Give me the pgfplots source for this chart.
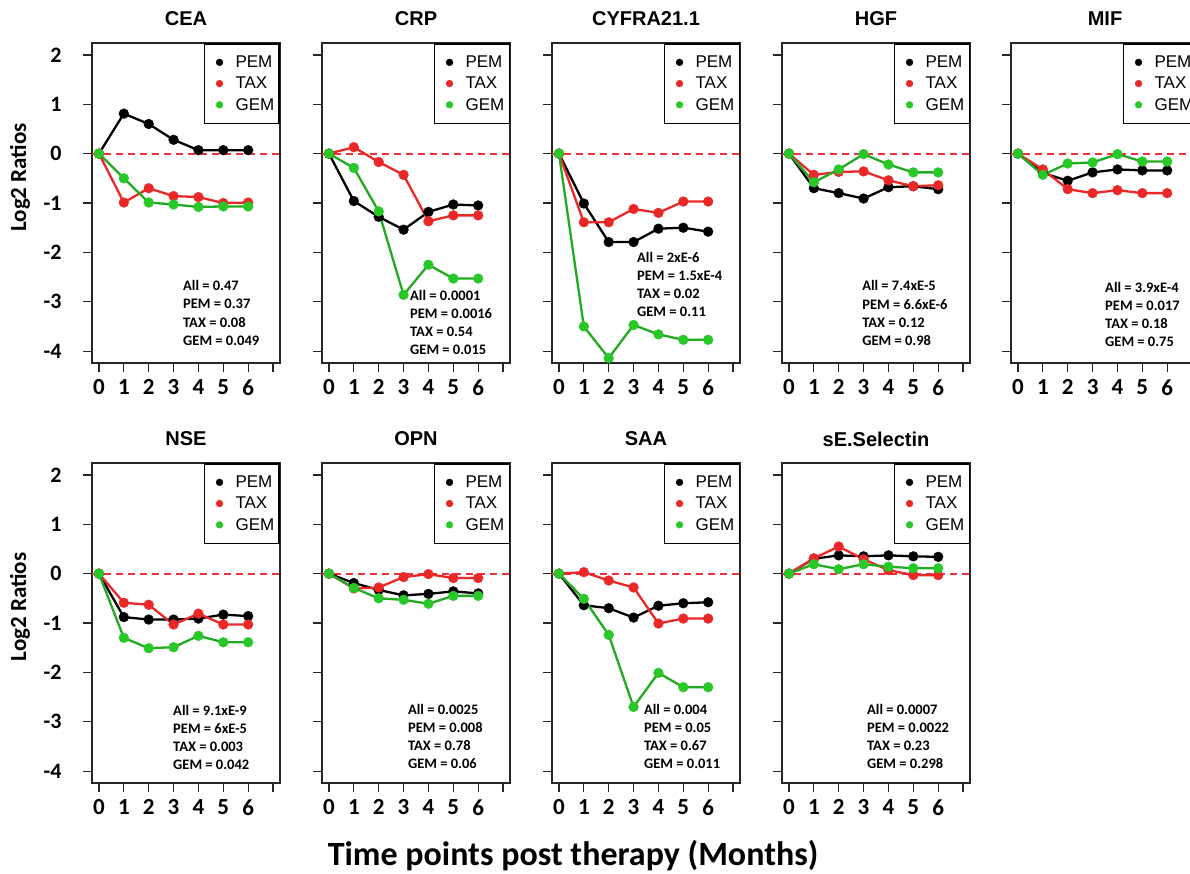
\documentclass[border=0pt]{standalone}
\usepackage{fontspec}
\setmainfont{Carlito}
\newfontfamily\helv{Liberation Sans}
\usepackage{pgfplots}
\pgfplotsset{compat=1.18}
\definecolor{cR}{RGB}{235,40,40}
\definecolor{cG}{RGB}{40,200,40}
\definecolor{cZ}{RGB}{238,50,60}
\tikzset{st/.style={anchor=west, inner sep=0pt, font=\bfseries\fontsize{14.5}{14.5}\selectfont}}
\pgfplotsset{
 panel/.style={
  scale only axis, width=188pt, height=320pt,
  xmin=-0.28, xmax=7.28, ymin=-4.24, ymax=2.24,
  xtick={0,1,2,3,4,5,6,7}, xticklabels={0,1,2,3,4,5,6,{}},
  ytick={-4,-3,-2,-1,0,1,2}, yticklabels={},
  xtick pos=bottom, ytick pos=left,
  tick align=outside, major tick length=9pt,
  axis line style={line width=1.5pt, black!85},
  every tick/.style={line width=1.3pt, black!85},
  ticklabel style={font=\bfseries\fontsize{22}{22}\selectfont},
  xticklabel style={yshift=-4pt, font=\bfseries\fontsize{23}{23}\selectfont},
  yticklabel style={xshift=-18pt},
  title style={font=\helv\bfseries\fontsize{20}{20}\selectfont, at={(0.5,1)}, anchor=center, yshift=18pt},
  legend style={at={(1,1)}, anchor=north east, draw=black, line width=1.5pt,
    font=\helv\fontsize{17}{17}\selectfont, inner xsep=5pt, inner ysep=12pt, row sep=8pt, column sep=0pt,
    nodes={inner sep=0pt}},
  legend cell align=left,
  legend image code/.code={\path[draw=none, fill=none] (-10pt,-5pt) rectangle (16pt,5pt);
     \draw[mark repeat=1,mark phase=1,#1, mark size=3.4pt] plot coordinates {(0pt,0pt)};},
  clip=false,
 },
 pem/.style={black, line width=2.3pt, mark=*, mark size=4.9pt, mark options={line width=0.4pt}},
 tax/.style={cR, line width=2.3pt, mark=*, mark size=4.9pt, mark options={line width=0.4pt}},
 gem/.style={cG!85!black, line width=2.3pt, mark=*, mark size=4.9pt, mark options={line width=0.4pt, fill=cG, draw=cG}},
 firstcol/.style={yticklabels={-4,-3,-2,-1,0,1,2},
   ylabel={Log2 Ratios},
   ylabel style={at={(axis description cs:-0.383,#1)}, rotate=0, anchor=center, font=\bfseries\fontsize{23}{23}\selectfont}},
}
\newcommand{\stats}[6]{%
 \node[st] at (axis description cs:#1,#2) {All = #3};
 \node[st, yshift=-18.3pt] at (axis description cs:#1,#2) {PEM = #4};
 \node[st, yshift=-36.6pt] at (axis description cs:#1,#2) {TAX = #5};
 \node[st, yshift=-54.9pt] at (axis description cs:#1,#2) {GEM = #6};
}
\newcommand{\zeroline}{\addplot[draw=cZ, solid, dash pattern=on 7pt off 5pt, line width=1.8pt, mark=none, forget plot] coordinates {(-0.28,0) (7.28,0)};}
\newcommand{\leg}{\legend{PEM,TAX,GEM}}
\begin{document}
\begin{tikzpicture}
\path[use as bounding box, clip] (0,0) rectangle (1190pt,-873pt);
\fill[white] (0,0) rectangle (1190pt,-873pt);
% ---------- Row 1
\begin{axis}[panel, firstcol=0.58, at={(92pt,-43pt)}, anchor=north west, title={CEA}]
\zeroline
\addplot[pem] coordinates {(0,0) (1,0.81) (2,0.60) (3,0.28) (4,0.07) (5,0.07) (6,0.07)};
\addplot[tax] coordinates {(0,0) (1,-0.99) (2,-0.70) (3,-0.86) (4,-0.88) (5,-1.00) (6,-0.99)};
\addplot[gem] coordinates {(0,0) (1,-0.50) (2,-0.99) (3,-1.03) (4,-1.08) (5,-1.07) (6,-1.07)};
\leg
\stats{0.484}{0.241}{0.47}{0.37}{0.08}{0.049}
\end{axis}
\begin{axis}[panel, at={(322pt,-43pt)}, anchor=north west, title={CRP}]
\zeroline
\addplot[pem] coordinates {(0,0) (1,-0.96) (2,-1.28) (3,-1.54) (4,-1.18) (5,-1.03) (6,-1.05)};
\addplot[tax] coordinates {(0,0) (1,0.13) (2,-0.17) (3,-0.43) (4,-1.37) (5,-1.25) (6,-1.25)};
\addplot[gem] coordinates {(0,0) (1,-0.29) (2,-1.17) (3,-2.86) (4,-2.25) (5,-2.53) (6,-2.53)};
\leg
\stats{0.468}{0.2125}{0.0001}{0.0016}{0.54}{0.015}
\end{axis}
\begin{axis}[panel, at={(552pt,-43pt)}, anchor=north west, title={CYFRA21.1}]
\zeroline
\addplot[pem] coordinates {(0,0) (1,-1.01) (2,-1.79) (3,-1.79) (4,-1.52) (5,-1.50) (6,-1.58)};
\addplot[tax] coordinates {(0,0) (1,-1.39) (2,-1.39) (3,-1.12) (4,-1.20) (5,-0.97) (6,-0.97)};
\addplot[gem] coordinates {(0,0) (1,-3.50) (2,-4.14) (3,-3.47) (4,-3.66) (5,-3.77) (6,-3.77)};
\leg
\stats{0.452}{0.331}{2xE-6}{1.5xE-4}{0.02}{0.11}
\end{axis}
\begin{axis}[panel, at={(782pt,-43pt)}, anchor=north west, title={HGF}]
\zeroline
\addplot[pem] coordinates {(0,0) (1,-0.70) (2,-0.80) (3,-0.91) (4,-0.68) (5,-0.66) (6,-0.72)};
\addplot[tax] coordinates {(0,0) (1,-0.43) (2,-0.37) (3,-0.36) (4,-0.54) (5,-0.66) (6,-0.64)};
\addplot[gem] coordinates {(0,0) (1,-0.58) (2,-0.32) (3,-0.01) (4,-0.22) (5,-0.38) (6,-0.38)};
\leg
\stats{0.426}{0.241}{7.4xE-5}{6.6xE-6}{0.12}{0.98}
\end{axis}
\begin{axis}[panel, at={(1011pt,-43pt)}, anchor=north west, title={MIF}]
\zeroline
\addplot[pem] coordinates {(0,0) (1,-0.39) (2,-0.55) (3,-0.38) (4,-0.32) (5,-0.34) (6,-0.34)};
\addplot[tax] coordinates {(0,0) (1,-0.32) (2,-0.72) (3,-0.80) (4,-0.74) (5,-0.80) (6,-0.80)};
\addplot[gem] coordinates {(0,0) (1,-0.43) (2,-0.20) (3,-0.18) (4,-0.01) (5,-0.16) (6,-0.16)};
\leg
\stats{0.5}{0.2375}{3.9xE-4}{0.017}{0.18}{0.75}
\end{axis}
% ---------- Row 2
\begin{axis}[panel, firstcol=0.55, at={(92pt,-463pt)}, anchor=north west, title={NSE}]
\zeroline
\addplot[pem] coordinates {(0,0) (1,-0.88) (2,-0.93) (3,-0.93) (4,-0.91) (5,-0.83) (6,-0.86)};
\addplot[tax] coordinates {(0,0) (1,-0.59) (2,-0.63) (3,-1.03) (4,-0.81) (5,-1.03) (6,-1.03)};
\addplot[gem] coordinates {(0,0) (1,-1.30) (2,-1.51) (3,-1.49) (4,-1.26) (5,-1.39) (6,-1.39)};
\leg
\stats{0.431}{0.228}{9.1xE-9}{6xE-5}{0.003}{0.042}
\end{axis}
\begin{axis}[panel, at={(322pt,-463pt)}, anchor=north west, title={OPN}]
\zeroline
\addplot[pem] coordinates {(0,0) (1,-0.19) (2,-0.33) (3,-0.44) (4,-0.41) (5,-0.36) (6,-0.40)};
\addplot[tax] coordinates {(0,0) (1,-0.30) (2,-0.28) (3,-0.07) (4,-0.01) (5,-0.09) (6,-0.09)};
\addplot[gem] coordinates {(0,0) (1,-0.29) (2,-0.50) (3,-0.53) (4,-0.61) (5,-0.45) (6,-0.45)};
\leg
\stats{0.457}{0.231}{0.0025}{0.008}{0.78}{0.06}
\end{axis}
\begin{axis}[panel, at={(552pt,-463pt)}, anchor=north west, title={SAA}]
\zeroline
\addplot[pem] coordinates {(0,0) (1,-0.64) (2,-0.70) (3,-0.89) (4,-0.65) (5,-0.60) (6,-0.58)};
\addplot[tax] coordinates {(0,0) (1,0.03) (2,-0.14) (3,-0.28) (4,-1.01) (5,-0.91) (6,-0.91)};
\addplot[gem] coordinates {(0,0) (1,-0.51) (2,-1.24) (3,-2.70) (4,-2.01) (5,-2.30) (6,-2.30)};
\leg
\stats{0.489}{0.231}{0.004}{0.05}{0.67}{0.011}
\end{axis}
\begin{axis}[panel, at={(782pt,-463pt)}, anchor=north west, title={sE.Selectin}]
\zeroline
\addplot[pem] coordinates {(0,0) (1,0.30) (2,0.37) (3,0.35) (4,0.37) (5,0.35) (6,0.34)};
\addplot[tax] coordinates {(0,0) (1,0.31) (2,0.55) (3,0.29) (4,0.07) (5,-0.03) (6,-0.03)};
\addplot[gem] coordinates {(0,0) (1,0.19) (2,0.09) (3,0.19) (4,0.14) (5,0.11) (6,0.11)};
\leg
\stats{0.452}{0.231}{0.0007}{0.0022}{0.23}{0.298}
\end{axis}
\node[font=\bfseries\fontsize{34}{34}\selectfont] at (573pt,-856pt) {Time points post therapy (Months)};
\end{tikzpicture}
\end{document}
